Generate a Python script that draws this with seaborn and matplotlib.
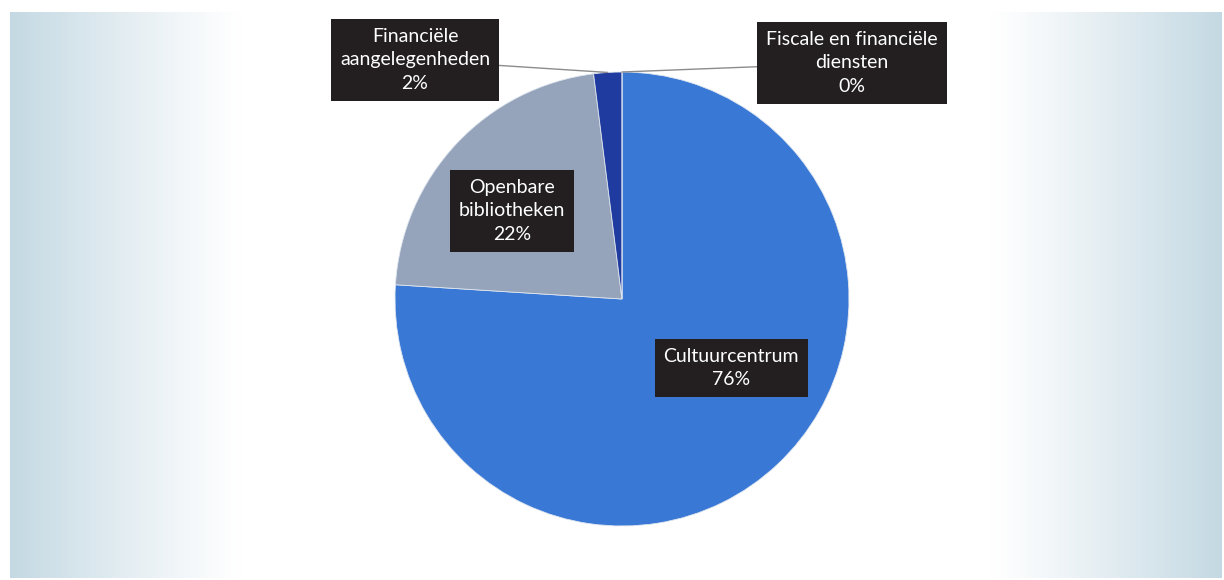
import numpy as np
import matplotlib
matplotlib.use("Agg")
import matplotlib.pyplot as plt
import seaborn as sns

# Budget share per domain (percent)
categories = ["Cultuurcentrum", "Openbare\nbibliotheken",
              "Financiële\naangelegenheden", "Fiscale en financiële\ndiensten"]
shares = [76, 22, 2, 0]
slice_colors = ["#3a78d6", "#95a4bb", "#1f3b9f", "#2a55c0"]

sns.set_theme(style="white")
plt.rcParams["font.family"] = ["Lato", "DejaVu Sans"]

W, H = 1224, 580
fig = plt.figure(figsize=(W / 100, H / 100), dpi=100)
fig.patch.set_facecolor("white")

# Background panel with a soft horizontal blue-white-blue gradient
bg = fig.add_axes([10 / W, 2 / H, 1212 / W, 566 / H])
xs = np.linspace(0, 1, 800)
edge = np.clip(1 - np.minimum(xs, 1 - xs) / 0.19, 0, 1) ** 1.1
c_edge = np.array([0.77, 0.85, 0.89])
c_mid = np.array([1.0, 1.0, 1.0])
grad = c_mid[None, :] * (1 - edge[:, None]) + c_edge[None, :] * edge[:, None]
bg.imshow(grad[None, :, :], aspect="auto", extent=[0, 1, 0, 1])
bg.set_axis_off()

# Pie axes: centre (622, 299) px from the top, radius 227 px
cx, cy, r = 622, 299, 227
ax = fig.add_axes([(cx - r) / W, (H - cy - r) / H, 2 * r / W, 2 * r / H])
wedges, _ = ax.pie(shares, colors=slice_colors, startangle=90, counterclock=False,
                   wedgeprops=dict(edgecolor="#dfe6ef", linewidth=0.6))
ax.set_xlim(-1, 1)
ax.set_ylim(-1, 1)
ax.set_aspect("equal")
ax.set_axis_off()

# Label boxes: (centre x, centre y from top) in pixels, and whether a leader line is drawn
label_pos = [(731, 368, False), (512, 211, False), (415, 60, True), (852, 63, True)]
total = sum(shares)
cum = 0.0
for name, val, (lx, ly, leader) in zip(categories, shares, label_pos):
    mid = (cum + val / 2) / total
    cum += val
    theta = np.deg2rad(90 - 360 * mid)
    px, py = np.cos(theta), np.sin(theta)
    text = f"{name}\n{val}%"
    kw = dict(ha="center", va="center", color="white", fontsize=14,
              linespacing=1.45, textcoords="figure pixels", xycoords="data",
              bbox=dict(boxstyle="square,pad=0.45", fc="#231f20", ec="none"),
              zorder=5, annotation_clip=False)
    if leader:
        kw["arrowprops"] = dict(arrowstyle="-", color="#8c8c8c", lw=1.0,
                                shrinkA=0, shrinkB=0)
    ax.annotate(text, xy=(px, py), xytext=(lx, H - ly), **kw)

fig.savefig("out.png", dpi=100)
